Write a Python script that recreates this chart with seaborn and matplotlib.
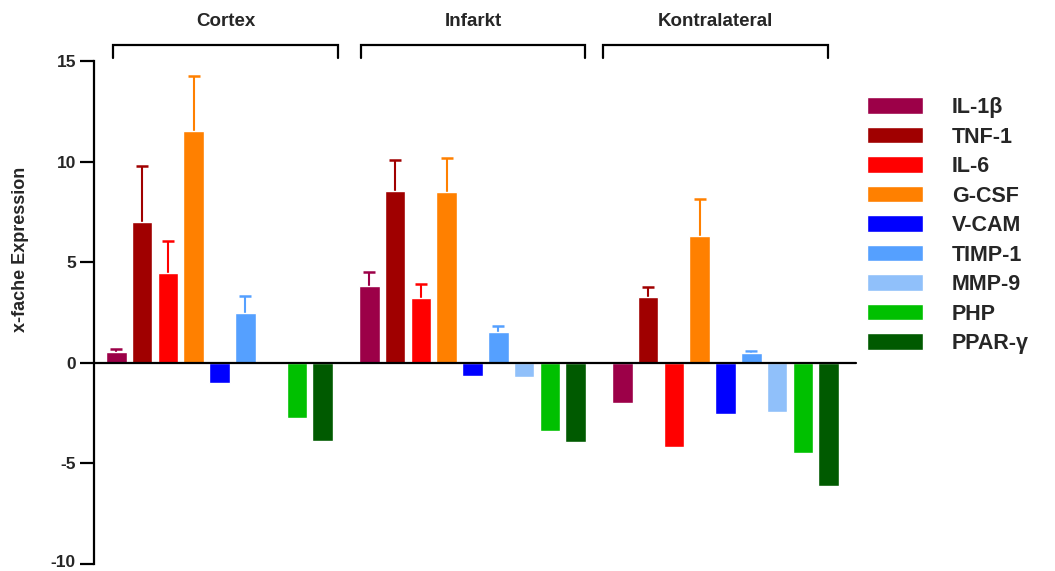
import numpy as np
import pandas as pd
import matplotlib
matplotlib.use("Agg")
import matplotlib.pyplot as plt
import matplotlib.transforms as mtransforms
import seaborn as sns

# Regions (x groups) and genes (hue levels)
regions = ["Cortex", "Infarkt", "Kontralateral"]
genes = ["IL-1β", "TNF-1", "IL-6", "G-CSF", "V-CAM", "TIMP-1", "MMP-9", "PHP", "PPAR-γ"]
gene_colors = ["#9C0048", "#A00000", "#FF0000", "#FF8000", "#0000FF",
               "#55A0FF", "#90C0FA", "#00C000", "#005A00"]

# Mean fold change per region, in gene order
cortex_mean = [0.55, 7.0, 4.45, 11.5, -1.0, 2.5, -0.05, -2.75, -3.9]
infarkt_mean = [3.8, 8.55, 3.2, 8.5, -0.65, 1.55, -0.7, -3.4, -3.95]
kontra_mean = [-2.0, 3.25, -4.2, 6.3, -2.55, 0.5, -2.45, -4.5, -6.1]

# Upper error (SEM) per region; negative bars show none
cortex_err = [0.15, 2.8, 1.6, 2.75, 0.0, 0.8, 0.0, 0.0, 0.0]
infarkt_err = [0.7, 1.55, 0.7, 1.7, 0.0, 0.3, 0.0, 0.0, 0.0]
kontra_err = [0.0, 0.5, 0.0, 1.82, 0.0, 0.08, 0.0, 0.0, 0.0]

y_ticks = [-10, -5, 0, 5, 10, 15]

means = [cortex_mean, infarkt_mean, kontra_mean]
errs = [cortex_err, infarkt_err, kontra_err]
rows = []
for r, reg in enumerate(regions):
    for g, gene in enumerate(genes):
        rows.append({"region": reg, "gene": gene,
                     "value": means[r][g], "err": errs[r][g]})
df = pd.DataFrame(rows)

sns.set_theme(style="white")
plt.rcParams["font.family"] = ["Liberation Sans", "DejaVu Sans"]
plt.rcParams["font.weight"] = "bold"

fig = plt.figure(figsize=(10.55, 5.71), dpi=100)
ax = fig.add_axes([94 / 1055, 1 - 564 / 571, (856 - 94) / 1055, (564 - 61) / 571])

group_width = 0.918
sns.barplot(data=df, x="region", y="value", hue="gene", hue_order=genes,
            order=regions, palette=gene_colors, width=group_width, gap=0.2,
            saturation=1, errorbar=None, ax=ax, zorder=2)

# One-sided error bars (stem + cap) on top of the positive bars
slot = group_width / len(genes)
for p in list(ax.patches):
    w = p.get_width()
    if w <= 0 or w > slot * 1.01:
        continue
    xc = p.get_x() + w / 2
    r = int(round(xc))
    g = int(round((xc - r) / slot + (len(genes) - 1) / 2))
    if not (0 <= r < len(regions) and 0 <= g < len(genes)):
        continue
    e = errs[r][g]
    v = means[r][g]
    if e > 0:
        ax.plot([xc, xc], [v, v + e], color=gene_colors[g], lw=1.5,
                solid_capstyle="butt", zorder=1)
        ax.plot([xc], [v + e], marker="_", markersize=8, markeredgewidth=1.8,
                color=gene_colors[g], zorder=1)

ax.set_xlim(-0.496, 2.516)
ax.set_ylim(-10, 15)
ax.set_yticks(y_ticks)
ax.set_yticklabels([str(t) for t in y_ticks], fontsize=12.5, fontweight="bold")
ax.set_xticks([])
ax.set_xlabel("")
ax.set_ylabel("x-fache Expression", fontsize=13, fontweight="bold")
ax.yaxis.set_label_coords(-0.085, 0.625)

for side in ["top", "right", "bottom"]:
    ax.spines[side].set_visible(False)
ax.spines["left"].set_linewidth(1.6)
ax.spines["left"].set_color("black")
ax.tick_params(axis="y", direction="out", length=10, width=1.6, color="black",
               left=True, pad=3)
ax.axhline(0, color="black", lw=1.6, zorder=3, clip_on=False)

# Keep the lowest tick label inside the figure edge
lowest = ax.get_yticklabels()[0]
lowest.set_transform(lowest.get_transform() +
                     mtransforms.ScaledTranslation(0, 3 / 100, fig.dpi_scale_trans))

# Region brackets and names above the bars
brackets = [(-0.421, 0.468), (0.559, 1.445), (1.516, 2.405)]
for (x0, x1), name in zip(brackets, regions):
    ax.plot([x0, x0, x1, x1], [15.15, 15.8, 15.8, 15.15], color="black",
            lw=1.6, clip_on=False, solid_joinstyle="miter")
    ax.text((x0 + x1) / 2, 16.95, name, ha="center", va="center",
            fontsize=13.5, fontweight="bold", clip_on=False)

# Legend on the right
old = ax.get_legend()
handles = old.legend_handles
labels = [t.get_text() for t in old.texts]
old.remove()
ax.legend(handles, labels, loc="upper left",
          bbox_to_anchor=(867 / 1055, 1 - 97 / 571), bbox_transform=fig.transFigure,
          frameon=False, prop={"size": 15.5, "weight": "bold"},
          handlelength=2.6, handleheight=0.79, labelspacing=0.395,
          handletextpad=1.35, borderpad=0, borderaxespad=0)

fig.savefig("out.png", dpi=100)
